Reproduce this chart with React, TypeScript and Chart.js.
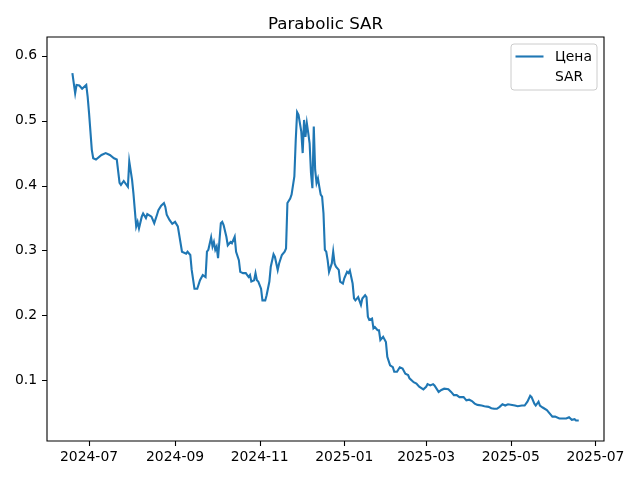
import React, { useEffect, useRef } from "react";
import Chart from "chart.js/auto";

const dates: string[] = [
  "2024-06-19","2024-06-21","2024-06-22","2024-06-24","2024-06-26","2024-06-29","2024-06-30",
  "2024-07-01","2024-07-03","2024-07-04","2024-07-06","2024-07-10","2024-07-13","2024-07-16","2024-07-19","2024-07-21","2024-07-23","2024-07-24","2024-07-26","2024-07-29","2024-07-30",
  "2024-08-01","2024-08-02","2024-08-04","2024-08-05","2024-08-06","2024-08-08","2024-08-09","2024-08-11","2024-08-12","2024-08-15","2024-08-17","2024-08-19","2024-08-20","2024-08-22","2024-08-24","2024-08-25","2024-08-26","2024-08-28","2024-08-30",
  "2024-09-01","2024-09-03","2024-09-06","2024-09-09","2024-09-10","2024-09-12","2024-09-13","2024-09-15","2024-09-17","2024-09-19","2024-09-21","2024-09-23","2024-09-24","2024-09-25","2024-09-27","2024-09-28","2024-09-29","2024-09-30",
  "2024-10-01","2024-10-02","2024-10-04","2024-10-05","2024-10-06","2024-10-08","2024-10-09","2024-10-11","2024-10-12","2024-10-14","2024-10-15","2024-10-17","2024-10-18","2024-10-20","2024-10-22","2024-10-24","2024-10-25","2024-10-26","2024-10-28","2024-10-29","2024-10-30","2024-10-31",
  "2024-11-02","2024-11-03","2024-11-05","2024-11-06","2024-11-08","2024-11-09","2024-11-11","2024-11-12","2024-11-14","2024-11-15","2024-11-17","2024-11-19","2024-11-20","2024-11-21","2024-11-23","2024-11-24","2024-11-26","2024-11-27","2024-11-28","2024-11-29",
  "2024-12-01","2024-12-02","2024-12-03","2024-12-04","2024-12-05","2024-12-06","2024-12-07","2024-12-08","2024-12-09","2024-12-10","2024-12-11","2024-12-12","2024-12-13","2024-12-14","2024-12-15","2024-12-16","2024-12-17","2024-12-18","2024-12-19","2024-12-20","2024-12-21","2024-12-23","2024-12-24","2024-12-25","2024-12-26","2024-12-28","2024-12-29","2024-12-31",
  "2025-01-01","2025-01-03","2025-01-04","2025-01-05","2025-01-07","2025-01-08","2025-01-09","2025-01-11","2025-01-13","2025-01-14","2025-01-16","2025-01-17","2025-01-18","2025-01-19","2025-01-21","2025-01-22","2025-01-23","2025-01-25","2025-01-26","2025-01-27","2025-01-29","2025-01-31",
  "2025-02-01","2025-02-03","2025-02-05","2025-02-06","2025-02-08","2025-02-10","2025-02-12","2025-02-14","2025-02-16","2025-02-17","2025-02-20","2025-02-22","2025-02-24","2025-02-27",
  "2025-03-01","2025-03-02","2025-03-04","2025-03-06","2025-03-07","2025-03-10","2025-03-12","2025-03-14","2025-03-17","2025-03-19","2025-03-21","2025-03-23","2025-03-25","2025-03-28","2025-03-30",
  "2025-04-01","2025-04-03","2025-04-05","2025-04-07","2025-04-10","2025-04-12","2025-04-15","2025-04-17","2025-04-19","2025-04-21","2025-04-23","2025-04-25","2025-04-27","2025-04-29",
  "2025-05-02","2025-05-04","2025-05-06","2025-05-09","2025-05-11","2025-05-13","2025-05-15","2025-05-16","2025-05-18","2025-05-19","2025-05-21","2025-05-22","2025-05-24","2025-05-27","2025-05-29","2025-05-31",
  "2025-06-02","2025-06-05","2025-06-08","2025-06-10","2025-06-12","2025-06-14","2025-06-16","2025-06-17","2025-06-19",
];

const price: number[] = [
  0.573,0.542,0.555,0.554,0.549,0.555,0.537,
  0.512,0.455,0.442,0.440,0.447,0.450,0.447,0.442,0.440,0.404,0.401,0.407,0.398,0.437,
  0.409,0.388,0.337,0.344,0.334,0.352,0.357,0.350,0.356,0.352,0.342,0.355,0.362,0.369,0.373,0.367,0.355,0.347,0.341,
  0.344,0.337,0.298,0.295,0.298,0.293,0.270,0.241,0.241,0.254,0.262,0.259,0.298,0.301,0.320,0.306,0.313,0.301,
  0.306,0.288,0.342,0.344,0.339,0.321,0.308,0.313,0.311,0.321,0.298,0.285,0.267,0.265,0.265,0.259,0.262,0.252,0.254,0.265,0.254,0.252,
  0.241,0.223,0.223,0.231,0.252,0.275,0.294,0.290,0.270,0.280,0.293,0.298,0.303,0.373,0.380,0.386,0.414,0.470,0.513,0.509,
  0.483,0.450,0.501,0.475,0.496,0.481,0.465,0.419,0.396,0.491,0.424,0.404,0.411,0.398,0.386,0.383,0.357,0.301,0.298,0.285,0.267,0.280,0.298,0.280,0.275,0.270,0.252,0.249,
  0.257,0.267,0.265,0.269,0.249,0.226,0.223,0.228,0.216,0.226,0.231,0.228,0.198,0.193,0.195,0.180,0.182,0.177,0.177,0.162,0.167,0.159,
  0.136,0.123,0.120,0.113,0.113,0.120,0.118,0.110,0.108,0.103,0.097,0.095,0.090,0.086,
  0.090,0.094,0.092,0.094,0.092,0.082,0.085,0.087,0.086,0.082,0.077,0.077,0.074,0.074,0.069,
  0.070,0.068,0.064,0.062,0.061,0.060,0.059,0.057,0.056,0.056,0.059,0.063,0.061,0.063,
  0.062,0.061,0.060,0.061,0.061,0.067,0.076,0.074,0.064,0.061,0.067,0.061,0.058,0.054,0.049,0.044,
  0.044,0.041,0.041,0.041,0.043,0.039,0.040,0.038,0.038,
];

const sarValues: number[] = [];

const xTickDates: string[] = ["2024-07-01","2024-09-01","2024-11-01","2025-01-01","2025-03-01","2025-05-01","2025-07-01"];
const xTickLabels: string[] = ["2024-07","2024-09","2024-11","2025-01","2025-03","2025-05","2025-07"];
const yTicks: number[] = [0.1, 0.2, 0.3, 0.4, 0.5, 0.6];

const BASE = Date.parse("2024-07-01T00:00:00Z");
const toDay = (d: string) => (Date.parse(d + "T00:00:00Z") - BASE) / 86400000;

const FONT = "'DejaVu Sans', sans-serif";

export default function App() {
  const ref = useRef<HTMLCanvasElement | null>(null);
  useEffect(() => {
    if (!ref.current) return;
    const pricePts = dates.map((d, i) => ({ x: toDay(d), y: price[i] }));
    const sarPts = sarValues.map((v, i) => ({ x: toDay(dates[i]), y: v }));
    const xTickVals = xTickDates.map(toDay);

    const decor = {
      id: "decor",
      afterDraw(chart: any) {
        const ctx = chart.ctx;
        const a = chart.chartArea;
        const xs = chart.scales.x;
        const ys = chart.scales.y;
        ctx.save();
        // spines
        ctx.strokeStyle = "#000";
        ctx.lineWidth = 1.1;
        ctx.beginPath();
        ctx.rect(a.left, a.top, a.right - a.left, a.bottom - a.top);
        ctx.stroke();
        // tick marks
        ctx.beginPath();
        xTickVals.forEach((v) => {
          const px = Math.round(xs.getPixelForValue(v)) + 0.5;
          ctx.moveTo(px, a.bottom);
          ctx.lineTo(px, a.bottom + 5);
        });
        yTicks.forEach((v) => {
          const py = Math.round(ys.getPixelForValue(v)) + 0.5;
          ctx.moveTo(a.left, py);
          ctx.lineTo(a.left - 5, py);
        });
        ctx.stroke();
        // title
        ctx.fillStyle = "#000";
        ctx.font = `16.7px ${FONT}`;
        ctx.textAlign = "center";
        ctx.textBaseline = "alphabetic";
        ctx.fillText("Parabolic SAR", (a.left + a.right) / 2, a.top - 8.5);
        // legend
        const w = 86, h = 46;
        const lx = a.right - 7 - w, ly = a.top + 7;
        ctx.beginPath();
        (ctx as any).roundRect(lx, ly, w, h, 3);
        ctx.fillStyle = "rgba(255,255,255,0.8)";
        ctx.fill();
        ctx.strokeStyle = "#cccccc";
        ctx.lineWidth = 1;
        ctx.stroke();
        ctx.strokeStyle = "#1f77b4";
        ctx.lineWidth = 2.1;
        ctx.beginPath();
        ctx.moveTo(lx + 4.5, ly + 12.5);
        ctx.lineTo(lx + 32.5, ly + 12.5);
        ctx.stroke();
        ctx.fillStyle = "#000";
        ctx.font = `13.9px ${FONT}`;
        ctx.textAlign = "left";
        ctx.textBaseline = "middle";
        ctx.fillText("Цена", lx + 44, ly + 13);
        ctx.fillText("SAR", lx + 44, ly + 33.5);
        ctx.restore();
      },
    };

    const chart = new Chart(ref.current, {
      type: "line",
      data: {
        datasets: [
          {
            label: "Цена",
            data: pricePts,
            borderColor: "#1f77b4",
            backgroundColor: "#1f77b4",
            borderWidth: 2.1,
            pointRadius: 0,
            tension: 0,
            fill: false,
          },
          {
            label: "SAR",
            data: sarPts,
            showLine: false,
            pointRadius: 0,
            borderColor: "rgba(0,0,0,0)",
            backgroundColor: "rgba(0,0,0,0)",
          },
        ],
      },
      options: {
        animation: false,
        responsive: false,
        devicePixelRatio: 1,
        layout: { padding: { top: 37, right: 36, left: 0, bottom: 0 } },
        plugins: {
          legend: { display: false },
          title: { display: false },
          tooltip: { enabled: false },
        },
        scales: {
          x: {
            type: "linear",
            min: -30.3,
            max: 371.2,
            afterFit: (s: any) => { s.height = 39; },
            afterBuildTicks: (s: any) => { s.ticks = xTickVals.map((v) => ({ value: v })); },
            ticks: {
              autoSkip: false,
              maxRotation: 0,
              padding: 3,
              color: "#000",
              font: { family: FONT, size: 13.9 },
              callback: (v: any) => {
                const i = xTickVals.findIndex((t) => Math.abs(t - v) < 0.01);
                return i >= 0 ? xTickLabels[i] : "";
              },
            },
            grid: { display: false, drawTicks: true, tickLength: 5 },
            border: { display: false },
          },
          y: {
            type: "linear",
            min: 0.0064,
            max: 0.6288,
            afterFit: (s: any) => { s.width = 47; },
            afterBuildTicks: (s: any) => { s.ticks = yTicks.map((v) => ({ value: v })); },
            ticks: {
              padding: 5,
              color: "#000",
              font: { family: FONT, size: 13.9 },
              callback: (v: any) => Number(v).toFixed(1),
            },
            grid: { display: false, drawTicks: true, tickLength: 5 },
            border: { display: false },
          },
        },
      },
      plugins: [decor],
    } as any);
    return () => chart.destroy();
  }, []);

  return (
    <div style={{ position: "absolute", left: 0, top: 0, width: 640, height: 480, background: "#fff" }}>
      <canvas ref={ref} width={640} height={480} />
    </div>
  );
}
